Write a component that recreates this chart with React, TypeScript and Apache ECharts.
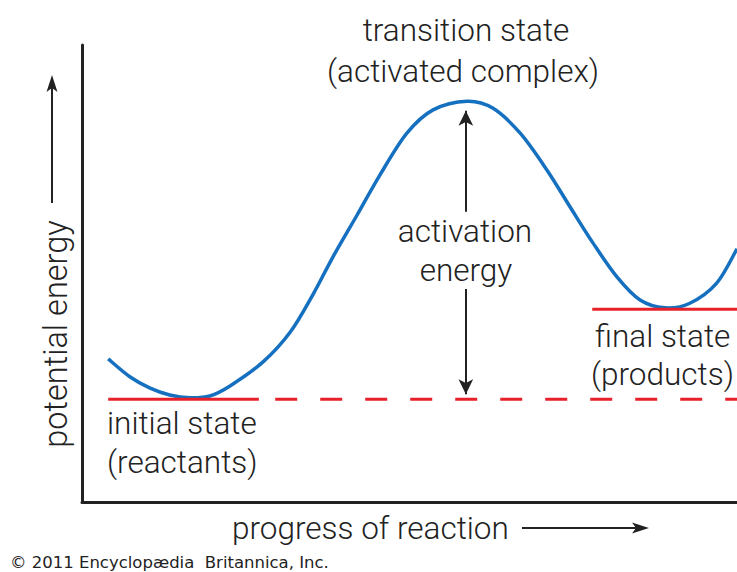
import React, { useEffect, useRef } from "react";
import * as echarts from "echarts";

// Reaction progress (0–100) and potential energy (0–100)
const curveProgress = [4.0, 7.3, 10.4, 13.4, 16.5, 19.5, 22.6, 27.6, 31.8, 35.3, 38.3, 42.0, 45.5, 49.6, 53.6, 58.8, 62.7, 66.9, 71.0, 74.5, 78.0, 81.7, 85.2, 89.0, 92.8, 96.9, 100];
const curveEnergy = [31.3, 27.4, 24.9, 23.4, 22.8, 23.2, 25.4, 30.6, 37.2, 45.5, 53.6, 62.8, 71.6, 80.7, 85.8, 87.7, 86.2, 80.7, 72.6, 64.6, 56.7, 49.2, 44.2, 42.5, 43.5, 47.9, 55.4];

const initialLevel = 22.5;
const finalLevel = 42.2;
const initialSpan = [4.0, 27.0];
const dashedSpan = [29.5, 100];
const finalSpan = [77.9, 100];
const transitionProgress = 58.6;
const arrowUpper = [63.5, 85.6];
const arrowLower = [46.6, 23.6];

const RED = "#e8202a";
const BLUE = "#1570c0";
const INK = "#222222";
const FONT = "Roboto";
const SIZE = 31.5;

export default function App() {
  const ref = useRef<HTMLDivElement>(null);
  useEffect(() => {
    if (!ref.current) return;
    const chart = echarts.init(ref.current, undefined, { renderer: "svg" });
    const text = (t: string, x: number, y: number, extra: any = {}) => ({
      type: "text",
      x,
      y,
      style: {
        text: t,
        fill: INK,
        font: `300 ${SIZE}px ${FONT}`,
        textAlign: "center",
        textVerticalAlign: "middle",
        ...extra,
      },
    });
    const curveData = curveProgress.map((x, i) => [x, curveEnergy[i]]);
    chart.setOption({
      animation: false,
      grid: { left: 82, right: 0, top: 45, bottom: 70 },
      xAxis: {
        type: "value",
        min: 0,
        max: 100,
        axisLine: { show: true, lineStyle: { color: INK, width: 3 } },
        axisTick: { show: false },
        axisLabel: { show: false },
        splitLine: { show: false },
      },
      yAxis: {
        type: "value",
        min: 0,
        max: 100,
        axisLine: { show: true, lineStyle: { color: INK, width: 3 } },
        axisTick: { show: false },
        axisLabel: { show: false },
        splitLine: { show: false },
      },
      series: [
        {
          type: "line",
          data: initialSpan.map((x) => [x, initialLevel]),
          symbol: "none",
          lineStyle: { color: RED, width: 3 },
          silent: true,
        },
        {
          type: "line",
          data: dashedSpan.map((x) => [x, initialLevel]),
          symbol: "none",
          lineStyle: { color: RED, width: 3, type: [22, 23] },
          silent: true,
        },
        {
          type: "line",
          data: finalSpan.map((x) => [x, finalLevel]),
          symbol: "none",
          lineStyle: { color: RED, width: 3 },
          silent: true,
        },
        {
          type: "custom",
          data: curveData,
          clip: true,
          silent: true,
          renderItem: (params: any, api: any) => {
            if (params.dataIndex !== 0) return null;
            const pts = curveData.map((d) => api.coord(d));
            const n = pts.length;
            let d = `M${pts[0][0]},${pts[0][1]}`;
            for (let i = 0; i < n - 1; i++) {
              const p0 = pts[Math.max(0, i - 1)];
              const p1 = pts[i];
              const p2 = pts[i + 1];
              const p3 = pts[Math.min(n - 1, i + 2)];
              const c1x = p1[0] + (p2[0] - p0[0]) / 6;
              const c1y = p1[1] + (p2[1] - p0[1]) / 6;
              const c2x = p2[0] - (p3[0] - p1[0]) / 6;
              const c2y = p2[1] - (p3[1] - p1[1]) / 6;
              d += ` C${c1x},${c1y} ${c2x},${c2y} ${p2[0]},${p2[1]}`;
            }
            return {
              type: "path",
              shape: { pathData: d },
              style: { stroke: BLUE, lineWidth: 3.5, fill: "none" },
            };
          },
        },
        {
          type: "line",
          data: [],
          silent: true,
          markLine: {
            silent: true,
            symbol: ["none", "arrow"],
            symbolSize: [11, 15],
            label: { show: false },
            lineStyle: { color: INK, width: 2, type: "solid" },
            data: [
              [{ coord: [transitionProgress, arrowUpper[0]] }, { coord: [transitionProgress, arrowUpper[1]] }],
              [{ coord: [transitionProgress, arrowLower[0]] }, { coord: [transitionProgress, arrowLower[1]] }],
            ],
          },
        },
      ],
      graphic: [
        text("transition state", 466, 30),
        text("(activated complex)", 463, 71),
        text("activation", 465, 231),
        text("energy", 466, 270),
        text("initial state", 107, 423, { textAlign: "left" }),
        text("(reactants)", 107, 462, { textAlign: "left" }),
        text("final state", 595, 336, { textAlign: "left" }),
        text("(products)", 591, 374, { textAlign: "left" }),
        text("progress of reaction", 232, 528, { textAlign: "left" }),
        {
          type: "text",
          x: 56,
          y: 334,
          rotation: Math.PI / 2,
          style: {
            text: "potential energy",
            fill: INK,
            font: `300 ${SIZE + 1}px ${FONT}`,
            textAlign: "center",
            textVerticalAlign: "middle",
          },
        },
        { type: "line", shape: { x1: 52, y1: 203, x2: 52, y2: 86 }, style: { stroke: INK, lineWidth: 2 } },
        { type: "polygon", shape: { points: [[52, 75], [57.5, 92], [52, 88], [46.5, 92]] }, style: { fill: INK } },
        { type: "line", shape: { x1: 522, y1: 528, x2: 638, y2: 528 }, style: { stroke: INK, lineWidth: 2 } },
        { type: "polygon", shape: { points: [[649, 528], [632, 522.5], [636, 528], [632, 533.5]] }, style: { fill: INK } },
        {
          type: "text",
          x: 10,
          y: 562,
          style: {
            text: "© 2011 Encyclopædia  Britannica, Inc.",
            fill: INK,
            font: "16.5px 'DejaVu Sans'",
            textAlign: "left",
            textVerticalAlign: "middle",
          },
        },
      ],
    });
    return () => chart.dispose();
  }, []);
  return (
    <div
      ref={ref}
      style={{ position: "fixed", left: 0, top: 0, width: 737, height: 572, background: "#fff" }}
    />
  );
}
